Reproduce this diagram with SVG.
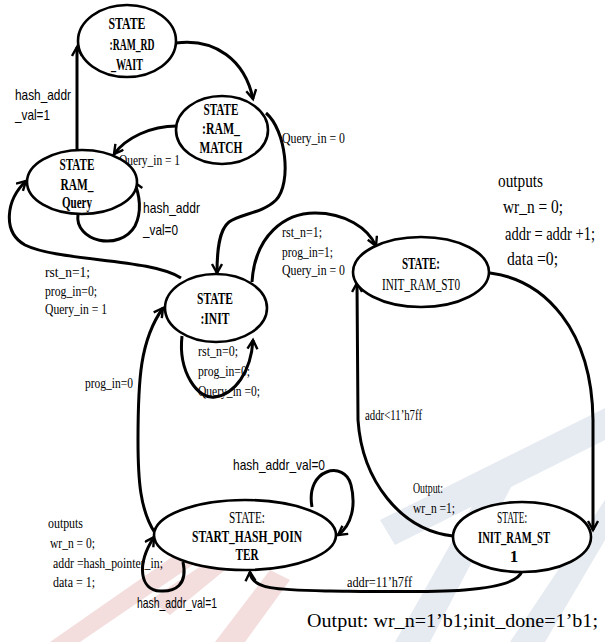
<svg xmlns="http://www.w3.org/2000/svg" width="605" height="642" viewBox="0 0 605 642">
<defs>
<marker id="arr" markerUnits="userSpaceOnUse" markerWidth="14" markerHeight="14" refX="10" refY="6" orient="auto">
<path d="M1,1 L10,6 L1,11" fill="none" stroke="#000" stroke-width="2.4" stroke-linejoin="miter"/>
</marker>
</defs>
<style>
.wm-b{fill:#e6eaf1}
.wm-p{fill:#f3dddd}
ellipse{fill:#fff;stroke:#000;stroke-width:2.6}
.e{fill:none;stroke:#000;stroke-width:3;marker-end:url(#arr)}
.n{font-family:"Liberation Serif","Times New Roman",serif;font-size:17px;font-weight:bold;fill:#000;text-anchor:middle}
.r{font-family:"Liberation Serif","Times New Roman",serif;font-size:17px;fill:#000;text-anchor:middle}
.s{font-family:"Liberation Serif","Times New Roman",serif;font-size:15px;fill:#000}
.b{font-family:"Liberation Serif","Times New Roman",serif;font-size:19px;fill:#000}
.f{font-family:"Liberation Sans",Arial,sans-serif;font-size:15px;fill:#000}
</style>
<rect width="605" height="642" fill="#fff"/>
<g id="watermark">
<polygon class="wm-b" points="380,520 605,408 605,440 395,545"/>
<polygon class="wm-b" points="395,642 430,642 520,470 488,478"/>
<polygon class="wm-b" points="510,642 545,642 605,540 605,500"/>
<polygon class="wm-p" points="50,642 80,642 200,560 185,548"/>
<polygon class="wm-p" points="215,642 245,642 290,580 270,570"/>
<polygon class="wm-p" points="150,600 170,615 225,570 210,560"/>
</g>
<g id="connectors">
<path class="e" d="M77,150 L77,47"/>
<path class="e" d="M176,43 C215,38 245,60 253,99"/>
<path class="e" d="M177,126 C150,126 126,138 114,154"/>
<path class="e" d="M266,113 C286,130 292,183 276,200 C263,213 240,214 229,222 C219,230 217,250 217,273"/>
<path class="e" d="M78,214 C74,242 120,252 135,226 C142,212 140,195 134,182"/>
<path class="e" d="M181,278 C150,258 60,262 25,245 C2,232 6,200 26,181"/>
<path class="e" d="M182,336 C178,372 198,400 215,397 C235,394 251,372 253,340"/>
<path class="e" d="M252,282 C255,235 285,213 315,213 C345,213 368,228 376,246"/>
<path class="e" d="M490,273 C545,280 592,330 593,420 L593,530"/>
<path class="e" d="M453,536 C400,530 362,480 358,420 L357,283"/>
<path class="e" d="M522,571 C515,595 420,592 330,591 C280,590 251,590 250,572"/>
<path class="e" d="M312,507 C305,468 345,460 351,485 C356,505 352,525 338,535"/>
<path class="e" d="M183,562 C188,585 175,592 160,591 C140,590 136,565 154,537"/>
<path class="e" d="M155,533 C140,510 138,480 138,440 C138,380 140,340 163,308"/>
</g>
<g id="labels">
<text class="f" x="15" y="100" textLength="56" lengthAdjust="spacingAndGlyphs">hash_addr</text>
<text class="f" x="15" y="120" textLength="35" lengthAdjust="spacingAndGlyphs">_val=1</text>
<text class="s" x="119" y="165" textLength="61" lengthAdjust="spacingAndGlyphs">Query_in = 1</text>
<text class="s" x="282" y="143" textLength="63" lengthAdjust="spacingAndGlyphs">Query_in = 0</text>
<text class="f" x="143" y="213" textLength="57" lengthAdjust="spacingAndGlyphs">hash_addr</text>
<text class="f" x="143" y="235" textLength="35" lengthAdjust="spacingAndGlyphs">_val=0</text>
<text class="s" x="45" y="277" textLength="45" lengthAdjust="spacingAndGlyphs">rst_n=1;</text>
<text class="s" x="45" y="296" textLength="52" lengthAdjust="spacingAndGlyphs">prog_in=0;</text>
<text class="s" x="45" y="314" textLength="62" lengthAdjust="spacingAndGlyphs">Query_in = 1</text>
<text class="s" x="198" y="356" textLength="40" lengthAdjust="spacingAndGlyphs">rst_n=0;</text>
<text class="s" x="198" y="376" textLength="52" lengthAdjust="spacingAndGlyphs">prog_in=0;</text>
<text class="s" x="198" y="396" textLength="62" lengthAdjust="spacingAndGlyphs">Query_in =0;</text>
<text class="s" x="85" y="388" textLength="48" lengthAdjust="spacingAndGlyphs">prog_in=0</text>
<text class="s" x="282" y="237" textLength="40" lengthAdjust="spacingAndGlyphs">rst_n=1;</text>
<text class="s" x="282" y="257" textLength="51" lengthAdjust="spacingAndGlyphs">prog_in=1;</text>
<text class="s" x="282" y="275" textLength="63" lengthAdjust="spacingAndGlyphs">Query_in = 0</text>
<text class="b" x="498" y="187" textLength="45" lengthAdjust="spacingAndGlyphs">outputs</text>
<text class="b" x="503" y="213" textLength="60" lengthAdjust="spacingAndGlyphs">wr_n = 0;</text>
<text class="b" x="505" y="240" font-size="16" textLength="90" lengthAdjust="spacingAndGlyphs">addr = addr +1;</text>
<text class="b" x="507" y="265" textLength="51" lengthAdjust="spacingAndGlyphs">data =0;</text>
<text class="s" x="365" y="420" textLength="57" lengthAdjust="spacingAndGlyphs">addr&lt;11’h7ff</text>
<text class="s" x="413" y="493" textLength="30" lengthAdjust="spacingAndGlyphs">Output:</text>
<text class="s" x="413" y="513" textLength="42" lengthAdjust="spacingAndGlyphs">wr_n =1;</text>
<text class="s" x="347" y="587" textLength="65" lengthAdjust="spacingAndGlyphs">addr=11’h7ff</text>
<text class="f" x="233" y="470" textLength="92" lengthAdjust="spacingAndGlyphs">hash_addr_val=0</text>
<text class="f" x="137" y="608" textLength="80" lengthAdjust="spacingAndGlyphs">hash_addr_val=1</text>
<text class="s" x="48" y="528" textLength="35" lengthAdjust="spacingAndGlyphs">outputs</text>
<text class="s" x="50" y="548" textLength="45" lengthAdjust="spacingAndGlyphs">wr_n = 0;</text>
<text class="s" x="53" y="568" textLength="110" lengthAdjust="spacingAndGlyphs">addr =hash_pointer_in;</text>
<text class="s" x="53" y="587" textLength="42" lengthAdjust="spacingAndGlyphs">data = 1;</text>
<text class="b" x="307" y="627" textLength="291" lengthAdjust="spacingAndGlyphs">Output:  wr_n=1’b1;init_done=1’b1;</text>
</g>
<g id="RAM_RD_WAIT">
<ellipse cx="127" cy="41" rx="49" ry="36"/>
<text class="n" x="127" y="29" textLength="37" lengthAdjust="spacingAndGlyphs">STATE</text>
<text class="n" x="132" y="50" textLength="45" lengthAdjust="spacingAndGlyphs">:RAM_RD</text>
<text class="n" x="127" y="70" textLength="32" lengthAdjust="spacingAndGlyphs">_WAIT</text>
</g>
<g id="RAM_MATCH">
<ellipse cx="222" cy="130" rx="46" ry="34"/>
<text class="n" x="221" y="115" textLength="35" lengthAdjust="spacingAndGlyphs">STATE</text>
<text class="n" x="221" y="134" textLength="38" lengthAdjust="spacingAndGlyphs">:RAM_</text>
<text class="n" x="221" y="153" textLength="43" lengthAdjust="spacingAndGlyphs">MATCH</text>
</g>
<g id="RAM_Query">
<ellipse cx="82" cy="182" rx="55" ry="32"/>
<text class="n" x="77" y="170" textLength="35" lengthAdjust="spacingAndGlyphs">STATE</text>
<text class="n" x="77" y="190" textLength="33" lengthAdjust="spacingAndGlyphs">RAM_</text>
<text class="n" x="77" y="208" textLength="30" lengthAdjust="spacingAndGlyphs">Query</text>
</g>
<g id="INIT">
<ellipse cx="216" cy="308" rx="51" ry="34"/>
<text class="n" x="215" y="304" textLength="36" lengthAdjust="spacingAndGlyphs">STATE</text>
<text class="n" x="215" y="324" textLength="29" lengthAdjust="spacingAndGlyphs">:INIT</text>
</g>
<g id="INIT_RAM_ST0">
<ellipse cx="421" cy="272" rx="68" ry="35"/>
<text class="n" x="421" y="269" textLength="38" lengthAdjust="spacingAndGlyphs">STATE:</text>
<text class="r" x="421" y="290" textLength="78" lengthAdjust="spacingAndGlyphs">INIT_RAM_ST0</text>
</g>
<g id="INIT_RAM_ST1">
<ellipse cx="522" cy="537" rx="69" ry="35"/>
<text class="r" x="512" y="523" textLength="30" lengthAdjust="spacingAndGlyphs">STATE:</text>
<text class="n" x="514" y="543" textLength="72" lengthAdjust="spacingAndGlyphs">INIT_RAM_ST</text>
<text class="n" x="514" y="562">1</text>
</g>
<g id="START_HASH_POINTER">
<ellipse cx="245" cy="535" rx="91" ry="35"/>
<text class="r" x="247" y="523" textLength="36" lengthAdjust="spacingAndGlyphs">STATE:</text>
<text class="n" x="247" y="542" textLength="110" lengthAdjust="spacingAndGlyphs">START_HASH_POIN</text>
<text class="n" x="247" y="560" textLength="23" lengthAdjust="spacingAndGlyphs">TER</text>
</g>
</svg>
